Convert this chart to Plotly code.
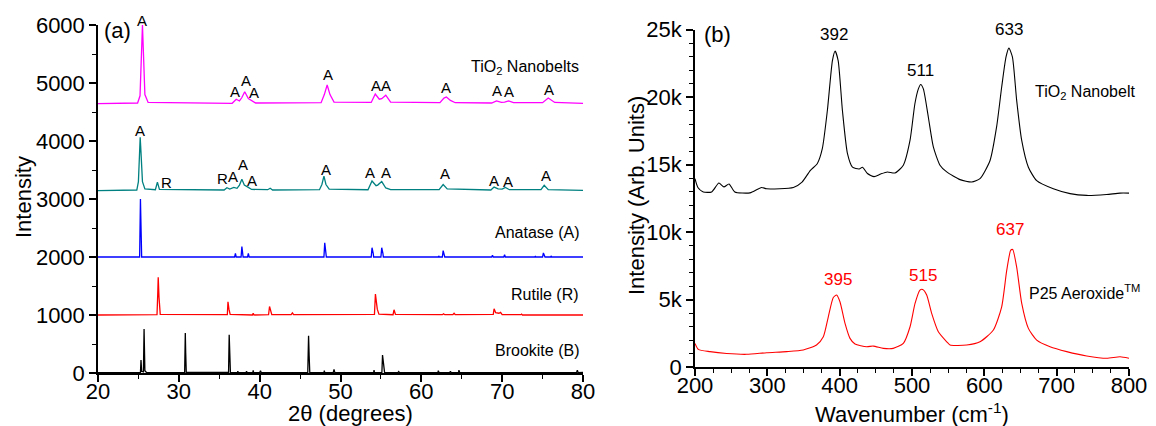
import plotly.graph_objects as go

# page body has an 8px margin; the figure is sized to fill the rest of the 1156x426 window
OFF = 8
W, H = 1156 - OFF, 426 - OFF

# ---------------- XRD data (2theta, intensity) ----------------
NANOBELTS_XRD = [(20, 4645), (24.9, 4655), (25.2, 4780), (25.4, 5600), (25.5, 6000), (25.6, 5600),
                 (25.8, 4800), (26.2, 4665), (36.6, 4650), (37.1, 4720), (37.5, 4690), (37.8, 4750),
                 (38.15, 4850), (38.6, 4730), (39.0, 4690), (39.5, 4655), (47.6, 4660), (48.0, 4800),
                 (48.35, 4965), (48.7, 4800), (49.2, 4670), (53.8, 4665), (54.3, 4810), (54.8, 4720),
                 (55.1, 4730), (55.6, 4790), (56.2, 4670), (62.3, 4660), (62.8, 4740), (63.1, 4760),
                 (63.6, 4700), (64.2, 4660), (68.7, 4655), (69.3, 4690), (69.9, 4665), (70.3, 4670),
                 (70.8, 4690), (71.4, 4660), (75.0, 4660), (75.7, 4740), (76.5, 4665), (80, 4650)]

P25_XRD = [(20, 3145), (24.8, 3155), (25.0, 3300), (25.12, 3800), (25.22, 4065), (25.32, 3800),
           (25.5, 3300), (25.8, 3175), (26.5, 3160), (27.1, 3160), (27.35, 3290), (27.6, 3165),
           (35.6, 3155), (35.95, 3195), (36.3, 3170), (36.8, 3200), (37.2, 3185), (37.5, 3240),
           (37.8, 3340), (38.1, 3240), (38.6, 3200), (39.0, 3165), (41.0, 3160), (41.3, 3185),
           (41.6, 3155), (47.4, 3160), (47.7, 3250), (47.95, 3396), (48.2, 3250), (48.6, 3170),
           (53.4, 3160), (53.9, 3310), (54.4, 3230), (54.6, 3240), (55.1, 3300), (55.6, 3190),
           (56.2, 3160), (62.2, 3160), (62.7, 3250), (63.2, 3175), (68.6, 3155), (69.0, 3205),
           (69.5, 3175), (70.0, 3170), (70.4, 3200), (70.9, 3160), (74.8, 3160), (75.2, 3235),
           (75.7, 3160), (80, 3150)]

ANATASE_XRD = [(20, 2000), (25.15, 2000), (25.25, 3000), (25.4, 2000), (36.9, 2000), (37.0, 2060),
               (37.1, 2000), (37.7, 2000), (37.8, 2180), (37.95, 2000), (38.5, 2000), (38.6, 2060),
               (38.7, 2000), (47.95, 2000), (48.05, 2244), (48.2, 2080), (48.25, 2000), (53.8, 2000),
               (53.9, 2160), (54.05, 2060), (54.1, 2000), (55.0, 2000), (55.1, 2160), (55.25, 2060),
               (55.3, 2000), (62.1, 2000), (62.15, 2020), (62.25, 2000), (62.6, 2000), (62.7, 2110),
               (62.85, 2040), (62.9, 2000), (68.7, 2000), (68.8, 2030), (68.9, 2000), (70.2, 2000),
               (70.3, 2040), (70.4, 2000), (74.0, 2000), (74.1, 2010), (74.2, 2000), (75.0, 2000),
               (75.1, 2070), (75.25, 2030), (75.3, 2000), (76.0, 2000), (76.05, 2020), (76.15, 2000),
               (80, 2000)]

RUTILE_XRD = [(20, 1000), (27.3, 1005), (27.4, 1400), (27.45, 1650), (27.55, 1300), (27.7, 1010),
              (36.0, 1005), (36.08, 1228), (36.2, 1100), (36.35, 1010), (39.1, 1000), (39.2, 1030),
              (39.3, 1000), (41.1, 1005), (41.22, 1147), (41.35, 1050), (41.5, 1005), (43.9, 1005),
              (44.05, 1035), (44.2, 1005), (54.2, 1010), (54.32, 1360), (54.45, 1250), (54.55, 1100),
              (54.75, 1015), (56.5, 1005), (56.62, 1090), (56.8, 1010), (62.6, 1005), (62.75, 1020),
              (62.9, 1005), (63.9, 1005), (64.05, 1030), (64.2, 1005), (68.9, 1010), (69.0, 1107),
              (69.2, 1040), (69.6, 1030), (69.8, 1045), (70.0, 1005), (72.3, 1005), (72.4, 1015),
              (72.5, 1000), (80, 1000)]

BROOKITE_XRD = [(20, 5), (25.25, 10), (25.32, 225), (25.4, 30), (25.62, 20), (25.7, 760), (25.8, 40),
                (26.0, 8), (30.72, 10), (30.8, 690), (30.85, 350), (30.92, 10), (36.15, 10), (36.23, 660),
                (36.3, 300), (36.38, 10), (37.25, 5), (37.3, 30), (37.35, 5), (38.3, 5), (38.38, 30),
                (38.45, 5), (39.15, 5), (39.2, 45), (39.25, 5), (40.0, 5), (40.1, 40), (40.2, 5),
                (45.95, 5), (46.05, 640), (46.12, 300), (46.2, 5), (47.95, 5), (48.0, 40), (48.05, 5),
                (49.1, 5), (49.2, 60), (49.3, 5), (54.1, 5), (54.15, 50), (54.2, 5), (55.12, 10),
                (55.2, 310), (55.28, 180), (55.35, 120), (55.45, 10), (57.1, 5), (57.2, 25), (57.3, 5),
                (62.05, 5), (62.1, 40), (62.2, 5), (63.5, 5), (63.6, 30), (63.7, 5), (64.6, 5),
                (64.65, 50), (64.75, 5), (79.2, 5), (79.3, 50), (79.4, 5), (80, 10)]

# peak markers on XRD patterns (2theta, intensity of label centre)
NB_LABEL_X = [25.5, 36.96, 38.25, 39.3, 48.5, 54.35, 55.6, 63.1, 69.4, 70.9, 75.75]
NB_LABEL_Y = [6000, 4860, 5050, 4840, 5155, 4955, 4965, 4930, 4866, 4845, 4896]
P25_LABEL_TEXT = ['A', 'R', 'R', 'A', 'A', 'A', 'A', 'A', 'A', 'A', 'A', 'A', 'A']
P25_LABEL_X = [25.19, 28.5, 35.4, 36.7, 37.96, 39.0, 48.17, 53.7, 55.6, 62.9, 68.93, 70.7, 75.4]
P25_LABEL_Y = [4175, 3282, 3356, 3396, 3599, 3322, 3512, 3465, 3465, 3443, 3327, 3310, 3408]

# ---------------- Raman data (wavenumber, intensity in k) ----------------
NANOBELT_RAMAN = [(200, 13.95), (204, 13.3), (211.5, 12.97), (223, 12.97), (233, 13.63), (240, 13.34),
                  (247, 13.56), (255, 12.97), (276, 12.9), (292, 13.3), (299, 13.2), (336, 13.3),
                  (348, 13.7), (359.6, 14.57), (369, 15.06), (376, 16.17), (383, 19.0), (390, 22.7),
                  (393.7, 23.4), (397.9, 22.7), (403.8, 19.0), (410.8, 15.8), (417.7, 14.8), (427, 14.67),
                  (431.5, 14.8), (438.4, 14.33), (447.6, 14.1), (456.8, 14.3), (466, 14.45), (476.5, 14.37),
                  (488, 14.95), (497.3, 16.8), (504, 19.5), (508.8, 20.6), (512, 20.93), (515.7, 20.6),
                  (522.6, 18.5), (529.5, 16.3), (538.7, 14.95), (548, 14.45), (566.4, 13.88),
                  (582.5, 13.7), (594, 13.95), (607.9, 15.3), (617, 17.8), (624, 20.74), (630, 22.97),
                  (634, 23.62), (638.8, 22.97), (644.7, 19.75), (651.6, 16.8), (660.9, 14.8),
                  (672.4, 13.8), (695.4, 13.2), (718.5, 12.84), (741.5, 12.71), (769, 12.78),
                  (787.6, 12.88), (800, 12.88)]

P25_RAMAN = [(200, 1.75), (204.6, 1.31), (220.7, 1.14), (243.8, 1.0), (271.4, 0.94), (299, 1.06),
             (326.7, 1.14), (349.7, 1.26), (368, 1.63), (377.4, 2.24), (384.3, 3.72), (391.2, 5.15),
             (395.8, 5.33), (400.4, 4.83), (407.4, 3.23), (414.3, 2.12), (421.2, 1.7), (437.3, 1.5),
             (446.5, 1.55), (460.4, 1.38), (474, 1.38), (488, 1.75), (497.3, 2.98), (504.2, 4.71),
             (511, 5.7), (514.8, 5.74), (520.3, 5.33), (527.2, 3.97), (536.4, 2.61), (548, 1.87),
             (552.6, 1.63), (575.6, 1.63), (594, 1.87), (612.5, 2.74), (624, 4.46), (631, 7.17),
             (636.5, 8.65), (639.2, 8.7), (644.7, 7.4), (651.7, 4.71), (660.9, 2.86), (672.4, 1.99),
             (690.8, 1.5), (713.9, 1.14), (741.5, 0.82), (769.2, 0.65), (787.6, 0.76), (800, 0.65)]

RAMAN_NB_PEAKS = ['392', '511', '633']
RAMAN_NB_PEAK_X = [392, 512, 634]
RAMAN_NB_PEAK_Y = [24.63, 21.97, 24.98]
RAMAN_P25_PEAKS = ['395', '515', '637']
RAMAN_P25_PEAK_X = [398, 515.6, 635.6]
RAMAN_P25_PEAK_Y = [6.5, 6.8, 10.2]

X_TICKS_A = [20, 30, 40, 50, 60, 70, 80]
Y_TICKS_A = [0, 1000, 2000, 3000, 4000, 5000, 6000]
X_TICKS_B = [200, 300, 400, 500, 600, 700, 800]
Y_TICKS_B = [0, 5000, 10000, 15000, 20000, 25000]
Y_TICKTEXT_B = ['0', '5k', '10k', '15k', '20k', '25k']

FONT = 'Liberation Sans, Arial, sans-serif'


def px(x):  # window pixel -> paper x
    return (x - OFF) / W


def py(y):  # window pixel -> paper y
    return 1 - (y - OFF) / H


def split(pts, scale=1.0):
    return [p[0] for p in pts], [p[1] * scale for p in pts]


fig = go.Figure()

xrd_series = [(NANOBELTS_XRD, '#FF00FF'), (P25_XRD, '#008080'), (ANATASE_XRD, '#0000FF'),
              (RUTILE_XRD, '#FF0000'), (BROOKITE_XRD, '#000000')]
for pts, col in xrd_series:
    x, y = split(pts)
    fig.add_trace(go.Scatter(x=x, y=y, mode='lines', line=dict(color=col, width=1.3),
                             xaxis='x', yaxis='y', showlegend=False, hoverinfo='skip'))

for pts, col in [(NANOBELT_RAMAN, '#000000'), (P25_RAMAN, '#FF0000')]:
    x, y = split(pts, 1000)
    fig.add_trace(go.Scatter(x=x, y=y, mode='lines', line=dict(color=col, width=1.1, shape='spline', smoothing=0.6),
                             xaxis='x2', yaxis='y2', showlegend=False, hoverinfo='skip'))

axis_common = dict(showline=True, linecolor='black', linewidth=1.5, mirror=False,
                   ticks='outside', ticklen=7, tickwidth=1.5, tickcolor='black',
                   showgrid=False, zeroline=False, automargin=False,
                   tickfont=dict(family=FONT, size=22, color='black'))

fig.update_layout(
    width=W, height=H, margin=dict(l=0, r=0, t=0, b=0, pad=0, autoexpand=False),
    plot_bgcolor='white', paper_bgcolor='white', showlegend=False,
    xaxis=dict(axis_common, domain=[px(98), px(583)], range=[20, 80], anchor='y',
               tickvals=X_TICKS_A, ticklabelstandoff=-9,
               minor=dict(ticks='outside', dtick=5, ticklen=4, tickwidth=1.2, tickcolor='black')),
    yaxis=dict(axis_common, domain=[py(373), py(25)], range=[0, 6000], anchor='x',
               tickvals=Y_TICKS_A,
               minor=dict(ticks='outside', dtick=500, ticklen=4, tickwidth=1.2, tickcolor='black')),
    xaxis2=dict(axis_common, domain=[px(695), px(1129)], range=[200, 800], anchor='y2',
                tickvals=X_TICKS_B, ticklabelstandoff=-9,
                minor=dict(ticks='outside', dtick=25, ticklen=4, tickwidth=1.2, tickcolor='black')),
    yaxis2=dict(axis_common, domain=[py(367), py(29.5)], range=[0, 25000], anchor='x2',
                tickvals=Y_TICKS_B, ticktext=Y_TICKTEXT_B,
                minor=dict(ticks='outside', dtick=1000, ticklen=4, tickwidth=1.2, tickcolor='black')),
)

ann = []
lab_font = dict(family=FONT, size=16, color='black')
a_font = dict(family=FONT, size=15, color='black')
for i, (x, y) in enumerate(zip(NB_LABEL_X, NB_LABEL_Y)):
    ann.append(dict(x=x, y=y, xref='x', yref='y', text='A', showarrow=False, font=a_font,
                    xanchor='center', yanchor='middle', yshift=5 if i == 0 else 0))
for t, x, y in zip(P25_LABEL_TEXT, P25_LABEL_X, P25_LABEL_Y):
    ann.append(dict(x=x, y=y, xref='x', yref='y', text=t, showarrow=False, font=a_font,
                    xanchor='center', yanchor='middle'))

# series names, panel (a)
names_a = [('TiO<sub>2</sub> Nanobelts', 79.8, 5260), ('P25 Aeroxide<sup>TM</sup>', 80.2, 3760),
           ('Anatase (A)', 79.8, 2417), ('Rutile (R)', 79.8, 1360), ('Brookite (B)', 79.8, 380)]
for t, x, y in names_a:
    ann.append(dict(x=x, y=y, xref='x', yref='y', text=t, showarrow=False, font=lab_font,
                    xanchor='right', yanchor='middle'))

ann.append(dict(x=22.45, y=5905, xref='x', yref='y', text='(a)', showarrow=False,
                font=dict(family=FONT, size=22, color='black'), xanchor='center', yanchor='middle'))
ann.append(dict(x=231, y=24630, xref='x2', yref='y2', text='(b)', showarrow=False,
                font=dict(family=FONT, size=22, color='black'), xanchor='center', yanchor='middle'))

pk_font = dict(family=FONT, size=17, color='black')
for t, x, y in zip(RAMAN_NB_PEAKS, RAMAN_NB_PEAK_X, RAMAN_NB_PEAK_Y):
    ann.append(dict(x=x, y=y * 1000, xref='x2', yref='y2', text=t, showarrow=False, font=pk_font,
                    xanchor='center', yanchor='middle'))
for t, x, y in zip(RAMAN_P25_PEAKS, RAMAN_P25_PEAK_X, RAMAN_P25_PEAK_Y):
    ann.append(dict(x=x, y=y * 1000, xref='x2', yref='y2', text=t, showarrow=False,
                    font=dict(family=FONT, size=17, color='#FF0000'), xanchor='center', yanchor='middle'))

ann.append(dict(x=667, y=20360, xref='x2', yref='y2', text='TiO<sub>2</sub> Nanobelt', showarrow=False,
                font=lab_font, xanchor='left', yanchor='middle'))
ann.append(dict(x=658.6, y=5570, xref='x2', yref='y2', text='P25 Aeroxide<sup>TM</sup>', showarrow=False,
                font=lab_font, xanchor='left', yanchor='middle'))

# axis titles
tfont = dict(family=FONT, size=22, color='black')
ann.append(dict(x=px(350), y=py(413.5), xref='paper', yref='paper', text='2θ (degrees)', showarrow=False,
                font=tfont, xanchor='center', yanchor='middle'))
ann.append(dict(x=px(23), y=py(197), xref='paper', yref='paper', text='Intensity', showarrow=False,
                font=tfont, xanchor='center', yanchor='middle', textangle=-90))
ann.append(dict(x=px(912), y=py(413), xref='paper', yref='paper', text='Wavenumber (cm<sup>-1</sup>)',
                showarrow=False, font=tfont, xanchor='center', yanchor='middle'))
ann.append(dict(x=px(636), y=py(195), xref='paper', yref='paper', text='Intensity (Arb. Units)',
                showarrow=False, font=tfont, xanchor='center', yanchor='middle', textangle=-90))

fig.update_layout(annotations=ann)
fig.write_html('out.html')
